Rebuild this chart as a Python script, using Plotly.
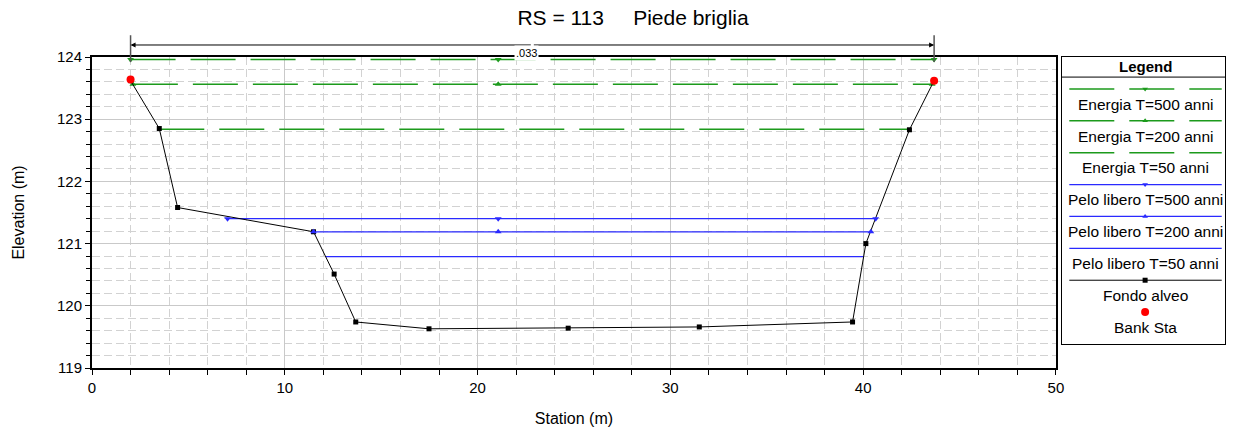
import plotly.graph_objects as go

# ground profile (Fondo alveo)
ground_sta = [2.0, 3.49, 4.44, 11.49, 12.56, 13.68, 17.48, 24.7, 31.5, 39.45, 40.14, 42.40, 43.68]
ground_elev = [123.62, 122.85, 121.58, 121.19, 120.51, 119.74, 119.63, 119.64, 119.66, 119.74, 121.0, 122.83, 123.62]

bank_sta = [2.0, 43.68]
bank_elev = [123.64, 123.62]
mannings_n = ".033"

# profiles: name, elevation, left end, right end, marker stations, symbol
energy_names = ["Energia T=500 anni", "Energia T=200 anni", "Energia T=50 anni"]
energy_elev = [123.96, 123.56, 122.84]
energy_left = [2.0, 2.12, 3.49]
energy_right = [43.68, 43.58, 42.40]
energy_marks = [[2.0, 21.07, 43.68], [2.12, 21.07, 43.58], []]

ws_names = ["Pelo libero T=500 anni", "Pelo libero T=200 anni", "Pelo libero T=50 anni"]
ws_elev = [121.40, 121.19, 120.79]
ws_left = [7.03, 11.49, 12.12]
ws_right = [40.65, 40.40, 40.02]
ws_marks = [[7.03, 21.07, 40.65], [11.49, 21.07, 40.40], []]

symbols = ["triangle-down", "triangle-up", None]

GREEN = "#1c9a1c"
BLUE = "#2a2aff"
FONT = "Arial, Liberation Sans, sans-serif"
DASH = "45px,15px"

fig = go.Figure()

for i in range(3):
    fig.add_trace(go.Scatter(x=[energy_left[i], energy_right[i]], y=[energy_elev[i]] * 2,
                             mode="lines", line=dict(color=GREEN, width=1.5, dash=DASH),
                             showlegend=False, hoverinfo="skip"))
    if energy_marks[i]:
        fig.add_trace(go.Scatter(x=energy_marks[i], y=[energy_elev[i]] * len(energy_marks[i]),
                                 mode="markers", marker=dict(color=GREEN, symbol=symbols[i], size=6),
                                 showlegend=False, name=energy_names[i]))

for i in range(3):
    fig.add_trace(go.Scatter(x=[ws_left[i], ws_right[i]], y=[ws_elev[i]] * 2,
                             mode="lines", line=dict(color=BLUE, width=1.2),
                             showlegend=False, hoverinfo="skip"))

fig.add_trace(go.Scatter(x=ground_sta, y=ground_elev, mode="lines+markers",
                         line=dict(color="black", width=1),
                         marker=dict(symbol="square", size=5, color="black"),
                         showlegend=False, name="Fondo alveo"))

for i in range(3):
    if ws_marks[i]:
        fig.add_trace(go.Scatter(x=ws_marks[i], y=[ws_elev[i]] * len(ws_marks[i]),
                                 mode="markers", marker=dict(color=BLUE, symbol=symbols[i], size=6),
                                 showlegend=False, name=ws_names[i]))

fig.add_trace(go.Scatter(x=bank_sta, y=bank_elev, mode="markers",
                         marker=dict(color="red", size=8), showlegend=False, name="Bank Sta"))

# ---- custom legend drawn on a second pair of axes ----
leg_names = energy_names + ws_names + ["Fondo alveo", "Bank Sta"]
leg_colors = [GREEN] * 3 + [BLUE] * 3 + ["black", "red"]
leg_dash = [DASH] * 3 + ["solid"] * 4 + [None]
leg_symbols = symbols + symbols + ["square", "circle"]
leg_width = [1.5] * 3 + [1.2] * 3 + [1, 0]

for i, name in enumerate(leg_names):
    row = 1.0 + i
    if leg_dash[i]:
        fig.add_trace(go.Scatter(x=[0.045, 0.98], y=[row, row], mode="lines", xaxis="x2", yaxis="y2",
                                 line=dict(color=leg_colors[i], width=leg_width[i], dash=leg_dash[i]),
                                 showlegend=False, hoverinfo="skip"))
    if leg_symbols[i]:
        fig.add_trace(go.Scatter(x=[0.51], y=[row], mode="markers", xaxis="x2", yaxis="y2",
                                 marker=dict(color=leg_colors[i], symbol=leg_symbols[i],
                                             size=8 if name == "Bank Sta" else 5),
                                 showlegend=False, hoverinfo="skip"))
    fig.add_annotation(x=0.51, y=row + 0.48, xref="x2", yref="y2", text=name, showarrow=False,
                       font=dict(size=15.5, color="black", family=FONT))

fig.add_annotation(x=0.51, y=0.31, xref="x2", yref="y2", text="<b>Legend</b>", showarrow=False,
                   font=dict(size=15, color="black", family=FONT))
fig.add_shape(type="line", xref="x2 domain", yref="y2", x0=0, x1=1, y0=0.63, y1=0.63,
              line=dict(color="black", width=1))

# ---- Manning's n dimension line between bank stations ----
mid = (bank_sta[0] + bank_sta[1]) / 2
for s in bank_sta:
    fig.add_shape(type="line", xref="x", yref="paper", x0=s, x1=s, y0=0.984, y1=1.07,
                  line=dict(color="#555555", width=1.5))
    fig.add_annotation(x=s, y=1.0386, xref="x", yref="paper", ax=mid, ay=0, axref="x", ayref="pixel",
                       showarrow=True, arrowhead=2, arrowsize=1, arrowwidth=1, arrowcolor="black",
                       text="")
fig.add_annotation(x=mid - 0.3, y=1.0386, xref="x", yref="paper", text=mannings_n, showarrow=False,
                   bgcolor="white", font=dict(size=11, color="black", family=FONT))

grid_major = "#c9c9c9"
grid_minor = "#d2d2d2"

fig.update_layout(
    width=1234, height=436,
    margin=dict(l=92, r=1, t=57, b=68),
    paper_bgcolor="white", plot_bgcolor="white",
    font=dict(family=FONT, color="black"),
    title=dict(text="RS = 113&nbsp;&nbsp;&nbsp;&nbsp;&nbsp;Piede briglia", x=0.513, xref="container",
               xanchor="center", y=0.9587, yanchor="middle", font=dict(size=21, color="black")),
    xaxis=dict(domain=[0, 0.8508], range=[0, 50], dtick=10, tick0=0,
               showline=True, linecolor="black", linewidth=2, mirror=True,
               ticks="outside", ticklen=5, tickcolor="black", tickfont=dict(size=15),
               showgrid=True, gridcolor=grid_major, gridwidth=1, zeroline=False,
               minor=dict(dtick=2, ticks="outside", ticklen=5, tickcolor="black",
                          showgrid=True, gridcolor=grid_minor, griddash="8px,4px"),
               title=dict(text="Station (m)", font=dict(size=16), standoff=18)),
    yaxis=dict(domain=[0, 1], range=[119, 124], dtick=1,
               showline=True, linecolor="black", linewidth=2, mirror=True,
               ticks="outside", ticklen=5, tickcolor="black", tickfont=dict(size=15),
               showgrid=True, gridcolor=grid_major, gridwidth=1, zeroline=False,
               minor=dict(dtick=0.2, ticks="outside", ticklen=4, tickcolor="black",
                          showgrid=True, gridcolor=grid_minor, griddash="8px,4px"),
               title=dict(text="Elevation (m)", font=dict(size=16), standoff=28)),
    xaxis2=dict(domain=[0.8561, 1.0], range=[0, 1], anchor="y2", showgrid=False, zeroline=False,
                showticklabels=False, showline=True, linecolor="black", linewidth=1, mirror=True),
    yaxis2=dict(domain=[0.0772, 1.0], range=[9.0, 0], anchor="x2", showgrid=False, zeroline=False,
                showticklabels=False, showline=True, linecolor="black", linewidth=1, mirror=True),
)

# drop the browser's default 8px body margin so the figure sits at the page origin
fig.write_html("out.html", config={"displayModeBar": False},
               post_script="document.body.style.margin = '0';")
